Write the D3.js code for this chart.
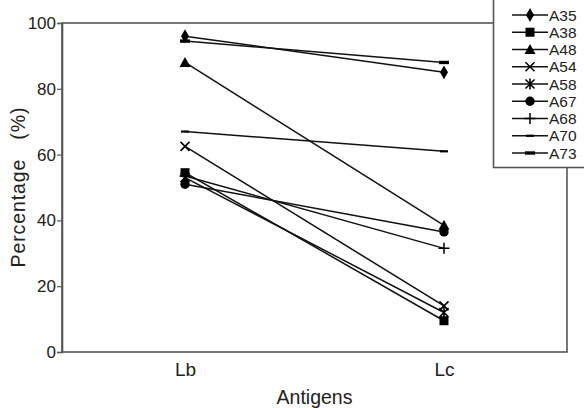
<!DOCTYPE html>
<html>
<head>
<meta charset="utf-8">
<script src="https://cdn.jsdelivr.net/npm/d3@7"></script>
<style>
  body { margin: 0; background: #fff; }
  svg { display: block; font-family: "Liberation Sans", Arial, sans-serif; }
</style>
</head>
<body>
<div id="chart"></div>
<script>
// Data
const antigens = ["Lb", "Lc"];
const seriesNames = ["A35", "A38", "A48", "A54", "A58", "A67", "A68", "A70", "A73"];
const lbValues = [96, 54.5, 88, 62.5, 53, 51, 53.5, 67, 94.5];
const lcValues = [85, 9.5, 38.5, 14, 12, 36.5, 31.5, 61, 88];
const yTicks = [0, 20, 40, 60, 80, 100];

const width = 584, height = 408;
const margin = { top: 23, right: 17, bottom: 56, left: 62 };

const svg = d3.select("#chart").append("svg")
  .attr("width", width)
  .attr("height", height);

const x = d3.scalePoint()
  .domain(antigens)
  .range([margin.left, width - margin.right])
  .padding(0.475);

const y = d3.scaleLinear()
  .domain([0, 100])
  .range([height - margin.bottom, margin.top]);

// frame
svg.append("rect")
  .attr("x", margin.left)
  .attr("y", margin.top)
  .attr("width", width - margin.left - margin.right)
  .attr("height", height - margin.top - margin.bottom)
  .attr("fill", "none")
  .attr("stroke", "#555")
  .attr("stroke-width", 1.6);

// y axis
const yAxis = svg.append("g")
  .attr("transform", `translate(${margin.left},0)`)
  .call(d3.axisLeft(y).tickValues(yTicks).tickSize(5).tickPadding(1));
yAxis.select(".domain").attr("stroke", "#555").attr("stroke-width", 1.6);
yAxis.selectAll(".tick line").attr("stroke", "#555").attr("stroke-width", 1.2);
yAxis.selectAll(".tick text")
  .attr("font-size", 17)
  .attr("fill", "#222")
  .attr("font-family", "Liberation Sans, Arial, sans-serif");

// x axis (labels only)
const xAxis = svg.append("g")
  .attr("transform", `translate(0,${height - margin.bottom})`)
  .call(d3.axisBottom(x).tickSize(0).tickPadding(11));
xAxis.select(".domain").remove();
xAxis.selectAll(".tick text")
  .attr("font-size", 19)
  .attr("fill", "#222")
  .attr("font-family", "Liberation Sans, Arial, sans-serif");

// axis titles
svg.append("text")
  .attr("transform", `translate(25,${(margin.top + height - margin.bottom) / 2}) rotate(-90)`)
  .attr("text-anchor", "middle")
  .attr("font-size", 19.5)
  .attr("fill", "#222")
  .style("white-space", "pre")
  .attr("textLength", 160)
  .attr("lengthAdjust", "spacing")
  .text("Percentage   (%)");

svg.append("text")
  .attr("x", (margin.left + width - margin.right) / 2)
  .attr("y", 404)
  .attr("text-anchor", "middle")
  .attr("font-size", 19.5)
  .attr("fill", "#222")
  .text("Antigens");

// marker shapes
function drawMarker(g, name, cx, cy) {
  const s = g.append("g").attr("transform", `translate(${cx},${cy})`);
  switch (name) {
    case "A35":
      s.append("path").attr("d", d3.symbol(d3.symbolDiamond, 55)()).attr("fill", "#000");
      break;
    case "A38":
      s.append("rect").attr("x", -4.5).attr("y", -4.5).attr("width", 9).attr("height", 9).attr("fill", "#000");
      break;
    case "A48":
      s.append("path").attr("d", "M0,-5.5L5.5,4.5L-5.5,4.5Z").attr("fill", "#000");
      break;
    case "A54":
      s.append("path").attr("d", "M-4.5,-4.5L4.5,4.5M-4.5,4.5L4.5,-4.5").attr("stroke", "#000").attr("stroke-width", 1.6);
      break;
    case "A58":
      s.append("path").attr("d", "M-4.5,-4.5L4.5,4.5M-4.5,4.5L4.5,-4.5M0,-5.5L0,5.5").attr("stroke", "#000").attr("stroke-width", 1.6);
      break;
    case "A67":
      s.append("circle").attr("r", 4.7).attr("fill", "#000");
      break;
    case "A68":
      s.append("path").attr("d", "M-5.5,0L5.5,0M0,-5.5L0,5.5").attr("stroke", "#000").attr("stroke-width", 1.5);
      break;
    case "A70":
      s.append("rect").attr("x", -4).attr("y", -1.1).attr("width", 8).attr("height", 2.2).attr("fill", "#000");
      break;
    case "A73":
      s.append("rect").attr("x", -5).attr("y", -1.7).attr("width", 10).attr("height", 3.4).attr("fill", "#000");
      break;
  }
}

// series lines and markers
const series = seriesNames.map((name, i) => ({ name, values: [lbValues[i], lcValues[i]] }));
const line = d3.line().x((d, i) => x(antigens[i])).y(d => y(d));

const plot = svg.append("g");
series.forEach(s => {
  plot.append("path")
    .attr("d", line(s.values))
    .attr("fill", "none")
    .attr("stroke", "#111")
    .attr("stroke-width", 1.5);
});
series.forEach(s => {
  s.values.forEach((v, i) => drawMarker(plot, s.name, x(antigens[i]), y(v)));
});

// legend
const legend = svg.append("g");
legend.append("rect")
  .attr("x", 493.5)
  .attr("y", -2)
  .attr("width", 100)
  .attr("height", 169.5)
  .attr("fill", "#fff")
  .attr("stroke", "#555")
  .attr("stroke-width", 1.6);

const ly = d3.scaleLinear().domain([0, seriesNames.length - 1]).range([15, 153]);
seriesNames.forEach((name, i) => {
  const g = legend.append("g");
  g.append("line")
    .attr("x1", 512).attr("x2", 548)
    .attr("y1", ly(i)).attr("y2", ly(i))
    .attr("stroke", "#111").attr("stroke-width", 1.5);
  drawMarker(g, name, 530, ly(i));
  g.append("text")
    .attr("x", 549)
    .attr("y", ly(i))
    .attr("dy", "0.36em")
    .attr("font-size", 15.5)
    .attr("fill", "#222")
    .text(name);
});
</script>
</body>
</html>
